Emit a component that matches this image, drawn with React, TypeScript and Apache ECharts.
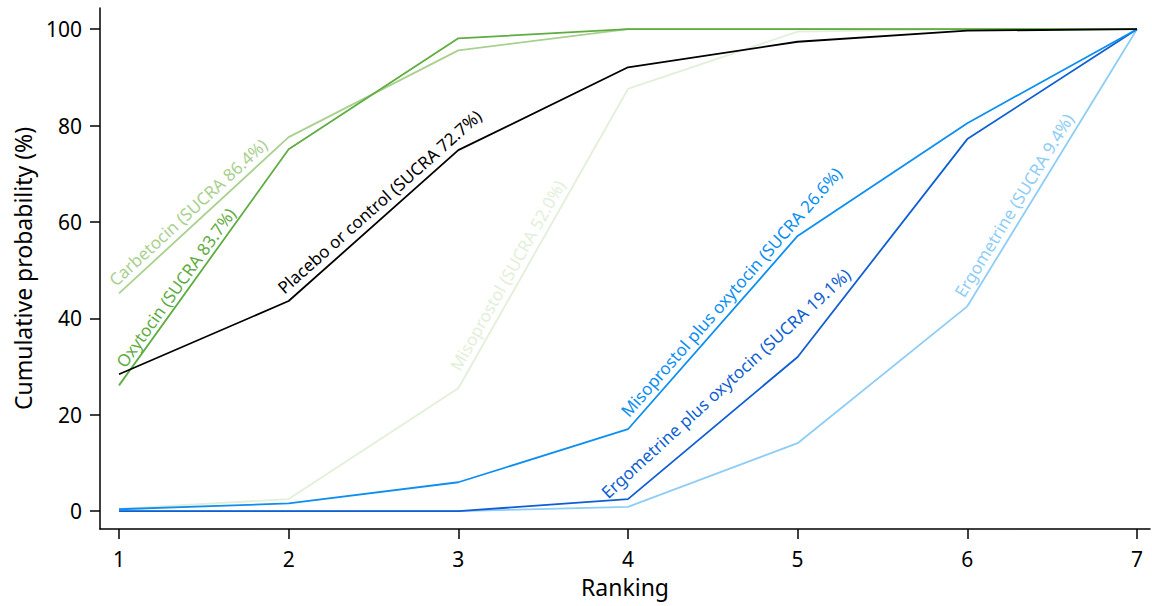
import React, { useEffect, useRef } from "react";
import * as echarts from "echarts";

// Rank positions on the x axis
const ranks = [1, 2, 3, 4, 5, 6, 7];
const yTicks = [0, 20, 40, 60, 80, 100];

// Cumulative probability (%) of each treatment being at or above each rank
const carbetocin = [45.2, 77.6, 95.6, 100, 100, 100, 100];
const oxytocin = [26.1, 75.1, 98.1, 100, 100, 100, 100];
const placebo = [28.4, 43.6, 74.9, 92.1, 97.4, 99.7, 100];
const misoprostol = [0.5, 2.5, 25.5, 87.6, 99.5, 100, 100];
const misoprostolOxytocin = [0.4, 1.6, 6.0, 17.0, 57.1, 80.5, 100];
const ergometrineOxytocin = [0, 0, 0, 2.5, 32.0, 77.2, 100];
const ergometrine = [0, 0, 0, 0.9, 14.1, 42.5, 100];

const seriesNames = [
  "Misoprostol (SUCRA 52.0%)",
  "Carbetocin (SUCRA 86.4%)",
  "Oxytocin (SUCRA 83.7%)",
  "Ergometrine (SUCRA 9.4%)",
  "Ergometrine plus oxytocin (SUCRA 19.1%)",
  "Misoprostol plus oxytocin (SUCRA 26.6%)",
  "Placebo or control (SUCRA 72.7%)",
];
const seriesData = [
  misoprostol,
  carbetocin,
  oxytocin,
  ergometrine,
  ergometrineOxytocin,
  misoprostolOxytocin,
  placebo,
];
const seriesColors = [
  "#e2f0d9",
  "#a9d18e",
  "#5fad41",
  "#8ecdf7",
  "#0f5fd2",
  "#0d8ff0",
  "#000000",
];

// Inline label placement: segment index, fraction along it, offset above it (px),
// and extra tilt (degrees) beyond the segment's own slope
const labelSegment = [2, 0, 0, 5, 3, 3, 1];
const labelAlong = [0.356, 0.458, 0.387, 0.34, 0.675, 0.666, 0.59];
const labelOffset = [13, 13, 11, 13, 26, 13, 14];
const labelTilt = [0, 0, 0, 0, 2.5, 0, 0];

const FONT = '"Noto Sans", "Open Sans", sans-serif';

export default function App() {
  const ref = useRef<HTMLDivElement>(null);

  useEffect(() => {
    if (!ref.current) return;
    const chart = echarts.init(ref.current, null, { renderer: "svg" });

    chart.setOption({
      animation: false,
      backgroundColor: "#ffffff",
      grid: { left: 100, right: 2, top: 8, bottom: 77, containLabel: false },
      xAxis: {
        type: "value",
        min: 0.888,
        max: 7.077,
        name: "Ranking",
        nameLocation: "middle",
        nameGap: 46,
        nameTextStyle: { fontFamily: FONT, fontSize: 23, color: "#000" },
        axisLine: { show: true, onZero: false, lineStyle: { color: "#000", width: 1.5 } },
        axisTick: { show: true, inside: false, length: 10, customValues: ranks, lineStyle: { color: "#000", width: 1.5 } },
        axisLabel: { customValues: ranks, fontFamily: FONT, fontSize: 21, color: "#000", margin: 19 },
        splitLine: { show: false },
      },
      yAxis: {
        type: "value",
        min: -3.7,
        max: 104.4,
        name: "Cumulative probability (%)",
        nameLocation: "middle",
        nameGap: 66,
        nameTextStyle: { fontFamily: FONT, fontSize: 23, color: "#000" },
        axisLine: { show: true, onZero: false, lineStyle: { color: "#000", width: 1.5 } },
        axisTick: { show: true, inside: false, length: 10, customValues: yTicks, lineStyle: { color: "#000", width: 1.5 } },
        axisLabel: { customValues: yTicks, fontFamily: FONT, fontSize: 21, color: "#000", margin: 18 },
        splitLine: { show: false },
      },
      series: seriesNames.map((name, i) => ({
        name,
        type: "line",
        data: ranks.map((r, j) => [r, seriesData[i][j]]),
        showSymbol: false,
        silent: true,
        lineStyle: { color: seriesColors[i], width: 1.8 },
        itemStyle: { color: seriesColors[i] },
        z: 2 + i,
      })),
    });

    // Labels laid along their line segments
    const graphics = seriesNames.map((name, i) => {
      const seg = labelSegment[i];
      const d = seriesData[i];
      const p0 = chart.convertToPixel({ gridIndex: 0 }, [ranks[seg], d[seg]]) as number[];
      const p1 = chart.convertToPixel({ gridIndex: 0 }, [ranks[seg + 1], d[seg + 1]]) as number[];
      const dx = p1[0] - p0[0];
      const dy = p1[1] - p0[1];
      const len = Math.hypot(dx, dy);
      const ux = dx / len;
      const uy = dy / len;
      const nx = uy;
      const ny = -ux;
      const t = labelAlong[i] * len;
      const off = labelOffset[i];
      return {
        type: "text",
        x: p0[0] + ux * t + nx * off,
        y: p0[1] + uy * t + ny * off,
        rotation: Math.atan2(-dy, dx) + (labelTilt[i] * Math.PI) / 180,
        silent: true,
        z: 100,
        style: {
          text: name,
          x: 0,
          y: 0,
          fill: seriesColors[i],
          font: `17px ${FONT}`,
          textAlign: "center",
          align: "center",
          textVerticalAlign: "middle",
          verticalAlign: "middle",
        },
      };
    });
    chart.setOption({ graphic: graphics });

    return () => chart.dispose();
  }, []);

  return <div ref={ref} style={{ width: 1152, height: 606, position: "absolute", left: 0, top: 0 }} />;
}
